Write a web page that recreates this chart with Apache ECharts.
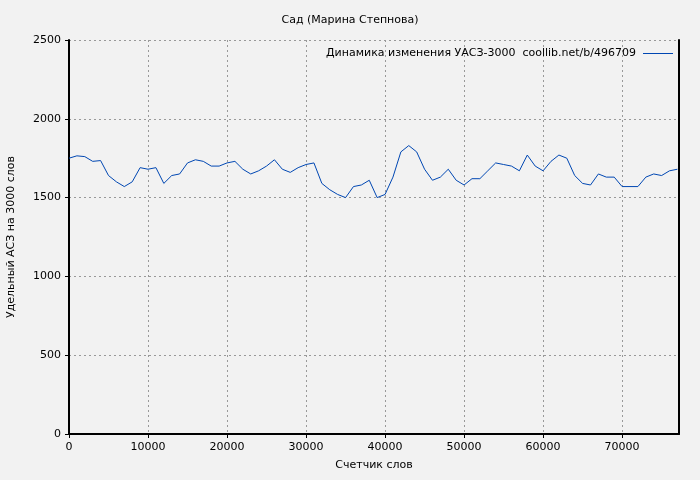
<!DOCTYPE html>
<html lang="ru">
<head>
  <meta charset="UTF-8">
  <title>Сад</title>
  <style>
    * { margin: 0; padding: 0; }
    body { background-color: #f2f2f2; }
    #main { width: 700px; height: 480px; }
  </style>
</head>
<body>
  <div id="main"></div>
  <script src="https://cdn.jsdelivr.net/npm/echarts@6/dist/echarts.min.js"></script>
  <script>
    // счетчик слов (шаг 1000) и удельный АСЗ
    var words = [];
    for (var i = 0; i <= 77; i++) words.push(i * 1000);
    var asz = [1750, 1765, 1760, 1730, 1735, 1640, 1600, 1570, 1600, 1690,
      1680, 1690, 1590, 1640, 1650, 1720, 1740, 1730, 1700, 1700,
      1720, 1730, 1680, 1650, 1670, 1700, 1740, 1680, 1660, 1690,
      1710, 1720, 1590, 1550, 1520, 1500, 1570, 1580, 1610, 1500,
      1520, 1630, 1790, 1830, 1790, 1680, 1610, 1630, 1680, 1610,
      1580, 1620, 1620, 1670, 1720, 1710, 1700, 1670, 1770, 1700,
      1670, 1730, 1770, 1750, 1640, 1590, 1580, 1650, 1630, 1630,
      1570, 1570, 1570, 1630, 1650, 1640, 1670, 1680];
    var seriesName = 'Динамика изменения УАСЗ-3000  coollib.net/b/496709';

    var myChart = echarts.init(document.getElementById('main'));
    var font = 'DejaVu Sans';
    var plain = function (v) { return String(v); };
    var option = {
      backgroundColor: '#f2f2f2',
      animation: false,
      textStyle: { fontFamily: font },
      title: {
        text: 'Сад (Марина Степнова)',
        left: 'center', top: 10,
        textStyle: { fontSize: 11, fontWeight: 'normal', color: '#000', fontFamily: font }
      },
      legend: {
        right: 22, top: 43,
        icon: 'path://M0,0 L30,0 L30,1 L0,1 Z',
        itemWidth: 34, itemHeight: 1,
        align: 'right',
        textStyle: { fontSize: 11, color: '#000', fontFamily: font },
        data: [seriesName]
      },
      grid: { left: 69, right: 21, top: 40, bottom: 46, outerBoundsMode: 'none' },
      xAxis: {
        type: 'value', min: 0, max: 77200, interval: 10000,
        name: 'Счетчик слов', nameLocation: 'middle', nameGap: 26,
        nameTextStyle: { fontSize: 11, color: '#000' },
        axisLine: { lineStyle: { color: '#000', width: 2 } },
        axisTick: { length: 4, lineStyle: { color: '#000' } },
        axisLabel: { fontSize: 11, color: '#000', showMaxLabel: false, formatter: plain },
        splitLine: { lineStyle: { color: '#999', type: [2, 3] } }
      },
      yAxis: [{
        type: 'value', min: 0, max: 2500, interval: 500,
        name: 'Удельный АСЗ на 3000 слов', nameLocation: 'middle', nameGap: 52,
        nameTextStyle: { fontSize: 11, color: '#000' },
        axisLine: { show: true, lineStyle: { color: '#000', width: 2 } },
        axisTick: { show: true, length: 4, lineStyle: { color: '#000' } },
        axisLabel: { fontSize: 11, color: '#000', formatter: plain },
        splitLine: { lineStyle: { color: '#999', type: [2, 3] } }
      }, {
        type: 'value', min: 0, max: 2500, interval: 500, position: 'right',
        axisLine: { show: true, lineStyle: { color: '#000', width: 2 } },
        axisTick: { show: false }, axisLabel: { show: false },
        splitLine: { show: false }
      }],
      series: [{
        name: seriesName,
        type: 'line',
        symbol: 'none',
        lineStyle: { color: '#0047b3', width: 1 },
        itemStyle: { color: '#0047b3' },
        data: words.map(function (w, i) { return [w, asz[i]]; })
      }]
    };
    myChart.setOption(option);
  </script>
</body>
</html>
